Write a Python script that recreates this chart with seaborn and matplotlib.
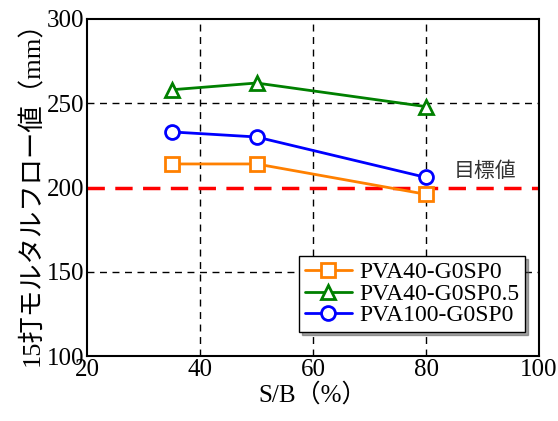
import numpy as np
import pandas as pd
import matplotlib
matplotlib.use("Agg")
import matplotlib.pyplot as plt
import seaborn as sns

sb = [35, 50, 80]
pva40_g0sp0 = [214, 214, 196]
pva40_g0sp05 = [258, 262, 248]
pva100_g0sp0 = [233, 230, 206]
series_names = ["PVA40-G0SP0", "PVA40-G0SP0.5", "PVA100-G0SP0"]
target = 200
target_label = "目標値"
xlabel = "S/B（%）"
ylabel = "15打モルタルフロー値（mm）"

sns.set_theme(style="white")
plt.rcParams['font.family'] = ['Liberation Serif', 'Noto Sans CJK JP']
plt.rcParams['text.color'] = 'black'
plt.rcParams['axes.labelcolor'] = 'black'
plt.rcParams['xtick.color'] = 'black'
plt.rcParams['ytick.color'] = 'black'

fig = plt.figure(figsize=(5.58, 4.21), dpi=100)
ax = fig.add_axes([0.156, 0.154, 0.81, 0.801])

colors = ["#ff8000", "#008000", "#0000ff"]
markers = ["s", "^", "o"]
values = [pva40_g0sp0, pva40_g0sp05, pva100_g0sp0]

ax.set_xlim(20, 100)
ax.set_ylim(100, 300)
ax.set_xticks([20, 40, 60, 80, 100])
ax.set_yticks([100, 150, 200, 250, 300])
for xv in [40, 60, 80]:
    ax.axvline(xv, color="black", ls=(0, (5, 4)), lw=1.0, zorder=1)
for yv in [150, 250]:
    ax.axhline(yv, color="black", ls=(0, (5, 4)), lw=1.0, zorder=1)
ax.axhline(target, color="#ff0000", ls=(0, (5, 3)), lw=2.5, zorder=2)
ax.text(90.5, 203, target_label, fontsize=15, family=['Noto Sans CJK JP'],
        ha="center", va="bottom", color="#333333")

for name, vals, c, m in zip(series_names, values, colors, markers):
    df = pd.DataFrame({"x": sb, "y": vals})
    sns.lineplot(data=df, x="x", y="y", ax=ax, color=c, marker=m,
                 markersize=10, mfc="white", mec=c, mew=2, lw=2,
                 label=name, zorder=3)

ax.set_xlabel(xlabel, fontsize=18, labelpad=1)
ax.set_ylabel(ylabel, fontsize=19, labelpad=2)
ax.tick_params(axis="both", labelsize=18, direction="in", length=0, pad=2)
for sp in ax.spines.values():
    sp.set_color("black")
    sp.set_linewidth(1.5)

leg = ax.legend(loc="lower right", bbox_to_anchor=(0.985, 0.05), fontsize=17,
                frameon=True, fancybox=False, shadow=True, borderpad=0.25,
                handlelength=2.0, handletextpad=0.3, labelspacing=0.0,
                borderaxespad=0.3)
leg.get_frame().set_edgecolor("black")
leg.get_frame().set_linewidth(1.0)

fig.savefig("out.png", dpi=100)
